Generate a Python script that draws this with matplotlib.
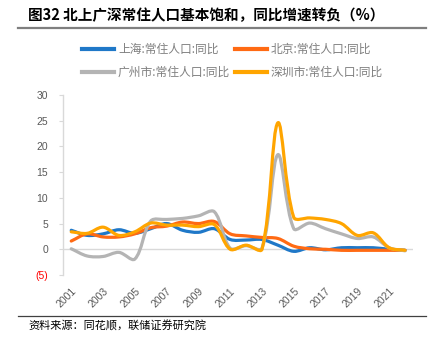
import matplotlib
matplotlib.use('Agg')
import matplotlib.pyplot as plt
from matplotlib.path import Path
from matplotlib.patches import PathPatch
from matplotlib.lines import Line2D
import numpy as np

plt.rcParams['font.family'] = ['Liberation Sans', 'Noto Sans CJK SC', 'DejaVu Sans']

years = list(range(2001, 2023))
shanghai = [3.7, 2.7, 3.0, 3.8, 3.1, 4.0, 5.0, 3.7, 3.3, 4.0, 1.9, 1.8, 1.9, 0.8, -0.4, 0.3, -0.1, 0.3, 0.3, 0.3, 0.0, -0.2]
beijing = [1.6, 3.0, 2.4, 2.4, 3.0, 4.2, 4.5, 5.3, 5.0, 5.4, 3.0, 2.6, 2.3, 2.1, 0.6, 0.1, 0.0, -0.2, -0.2, -0.2, -0.2, -0.2]
guangzhou = [0.1, -1.3, -1.4, -0.6, -1.9, 5.5, 5.8, 6.0, 6.5, 7.3, 0.2, 0.7, 0.2, 18.4, 4.0, 5.1, 4.0, 3.0, 2.1, 2.4, 0.3, -0.3]
shenzhen = [3.4, 3.1, 4.3, 2.7, 3.4, 5.1, 4.7, 4.7, 4.4, 4.8, 0.0, 0.8, 0.0, 24.6, 6.2, 6.1, 5.8, 5.0, 2.7, 3.2, 0.3, -0.2]

series_names = ['上海:常住人口:同比', '北京:常住人口:同比', '广州市:常住人口:同比', '深圳市:常住人口:同比']
series_values = [shanghai, beijing, guangzhou, shenzhen]
colors = ['#1F78C8', '#FF6A13', '#B4B4B4', '#FFA500']

yticks = [-5, 0, 5, 10, 15, 20, 25, 30]
ytick_labels = ['(5)', '0', '5', '10', '15', '20', '25', '30']
xticks = list(range(2001, 2022, 2))

title = '图32 北上广深常住人口基本饱和，同比增速转负（%）'
source = '资料来源：同花顺，联储证券研究院'

W, H = 438, 348
fig = plt.figure(figsize=(W / 100, H / 100), dpi=100)
ax = fig.add_axes([63.3 / W, 1 - 275 / H, (413 - 63.3) / W, 180 / H])
ax.set_xlim(2000.5, 2022.5)
ax.set_ylim(-5, 30)

# scale factors (pixels per data unit) for smoothing
SX, SY = 15.9, 180 / 35.0


def smooth_path(xs, ys):
    P = np.column_stack([np.array(xs, float) * SX, np.array(ys, float) * SY])
    n = len(P)
    verts = [P[0]]
    codes = [Path.MOVETO]
    cin = [None] * n
    cout = [None] * n
    for i in range(n):
        prev = P[i - 1] if i > 0 else P[i]
        nxt = P[i + 1] if i < n - 1 else P[i]
        T = nxt - prev
        dp = np.linalg.norm(P[i] - prev)
        dn = np.linalg.norm(nxt - P[i])
        tot = dp + dn if dp + dn > 0 else 1
        cin[i] = P[i] - T * dp / tot / 3.0
        cout[i] = P[i] + T * dn / tot / 3.0
    for i in range(n - 1):
        verts += [cout[i], cin[i + 1], P[i + 1]]
        codes += [Path.CURVE4] * 3
    V = np.array(verts)
    V[:, 0] /= SX
    V[:, 1] /= SY
    return Path(V, codes)


ax.axhline(0, color='#D9D9D9', lw=1, zorder=1)
for vals, c in zip(series_values, colors):
    patch = PathPatch(smooth_path(years, vals), facecolor='none', edgecolor=c,
                      lw=2.3, capstyle='round', joinstyle='round', zorder=3)
    ax.add_patch(patch)

for s in ['top', 'right', 'bottom']:
    ax.spines[s].set_visible(False)
ax.spines['left'].set_color('#D9D9D9')
ax.spines['left'].set_linewidth(1)

ax.set_yticks(yticks)
ax.set_yticklabels(ytick_labels)
ax.tick_params(axis='y', length=3, color='#D9D9D9', labelcolor='#595959', labelsize=7.5, pad=8)
ax.get_yticklabels()[0].set_color('#FF0000')

ax.set_xticks(xticks)
ax.set_xticklabels([str(x) for x in xticks], rotation=45, ha='right', va='top', rotation_mode='anchor')
ax.tick_params(axis='x', length=0, labelcolor='#595959', labelsize=7.5, pad=8)

handles = [Line2D([], [], color=c, lw=3) for c in colors]
order = [0, 2, 1, 3]
leg = fig.legend([handles[i] for i in order], [series_names[i] for i in order],
                 loc='upper left', bbox_to_anchor=(82 / W, 1 - 43 / H), ncol=2,
                 frameon=False, prop={'family': ['Noto Sans CJK SC', 'DejaVu Sans'], 'size': 8.5},
                 handlelength=2.7, handletextpad=0.34,
                 columnspacing=0.4, labelspacing=0.86, borderpad=0, borderaxespad=0)
for t in leg.get_texts():
    t.set_color('#7F7F7F')

fig.text(28 / W, 1 - 15 / H, title, fontsize=10.5, fontweight='bold', va='center', ha='left',
         family=['Noto Sans CJK SC', 'DejaVu Sans'], color='#000000')
fig.add_artist(Line2D([18 / W, 426 / W], [1 - 27.5 / H] * 2, color='#7F7F7F', lw=1.6))
fig.add_artist(Line2D([18 / W, 426 / W], [1 - 315.7 / H] * 2, color='#404040', lw=0.9))
fig.text(28 / W, 1 - 326 / H, source, fontsize=8, va='center', ha='left',
         family=['Noto Sans CJK SC', 'DejaVu Sans'], color='#000000')

fig.savefig('out.png', dpi=100)
